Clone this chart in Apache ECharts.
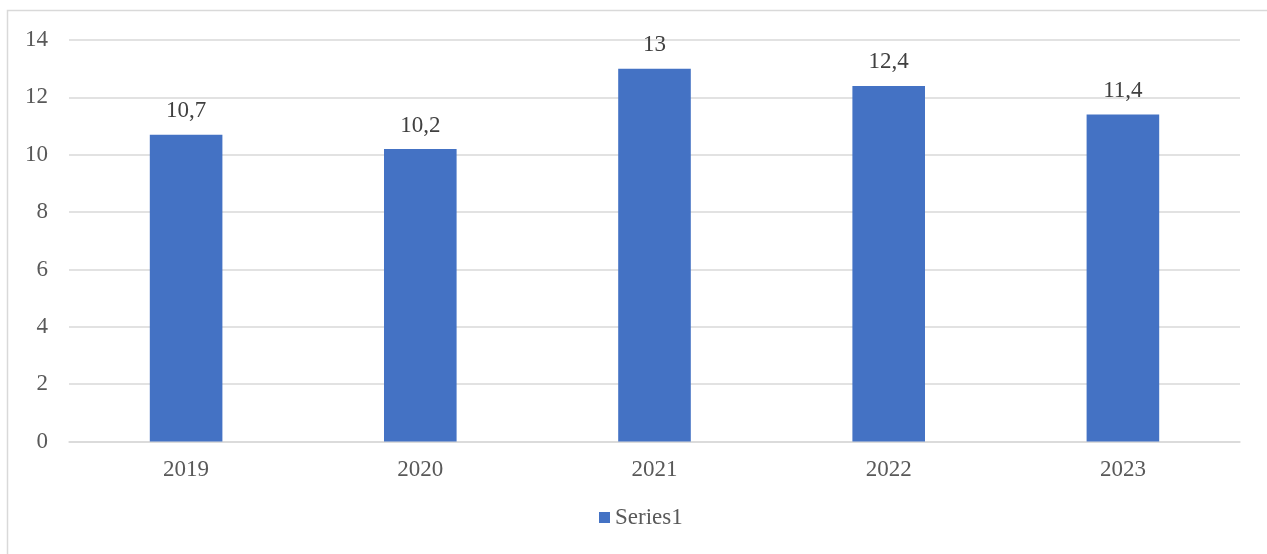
<!DOCTYPE html>
<html>
<head>
<meta charset="utf-8">
<script src="https://cdn.jsdelivr.net/npm/echarts@6/dist/echarts.min.js"></script>
<style>
html,body{margin:0;padding:0;background:#fff;}
#chart{width:1267px;height:554px;}
</style>
</head>
<body>
<div id="chart"></div>
<script>
const categories = ['2019', '2020', '2021', '2022', '2023'];
const series1 = [10.7, 10.2, 13, 12.4, 11.4];
const seriesName = 'Series1';

const font = "'Liberation Serif', 'Times New Roman', serif";
const chart = echarts.init(document.getElementById('chart'), null, {renderer: 'canvas'});
chart.setOption({
  animation: false,
  backgroundColor: '#ffffff',
  textStyle: {fontFamily: font},
  graphic: [{
    type: 'rect',
    shape: {x: 7.5, y: 10.5, width: 1280, height: 600},
    style: {fill: 'none', stroke: '#d9d9d9', lineWidth: 1.5},
    silent: true
  }],
  grid: {left: 69, right: 27, top: 40, bottom: 112.4},
  legend: {
    data: [seriesName],
    bottom: 20,
    left: 594,
    icon: 'rect',
    itemWidth: 11,
    itemHeight: 11,
    itemGap: 5,
    textStyle: {fontFamily: font, fontSize: 23, color: '#595959'}
  },
  xAxis: {
    type: 'category',
    data: categories,
    axisLine: {lineStyle: {color: '#d9d9d9', width: 1.5}},
    axisTick: {show: false},
    axisLabel: {fontFamily: font, fontSize: 23, color: '#595959', margin: 17}
  },
  yAxis: {
    type: 'value',
    min: 0, max: 14, interval: 2,
    axisLine: {show: false},
    axisTick: {show: false},
    splitLine: {lineStyle: {color: '#d9d9d9', width: 1.5}},
    axisLabel: {fontFamily: font, fontSize: 23, color: '#595959', margin: 21}
  },
  series: [{
    name: seriesName,
    type: 'bar',
    data: series1,
    barWidth: '31%',
    itemStyle: {color: '#4472c4'},
    label: {
      show: true,
      position: 'top',
      distance: 12,
      fontFamily: font,
      fontSize: 23,
      color: '#404040',
      formatter: p => String(p.value).replace('.', ',')
    }
  }]
});
</script>
</body>
</html>
